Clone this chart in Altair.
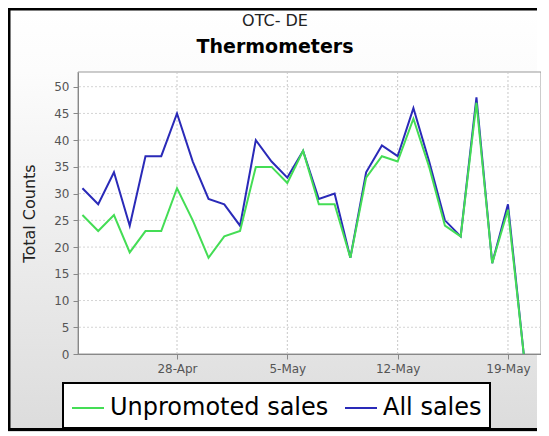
import altair as alt
import pandas as pd

# ---- data ----
dates = [f"2013-04-{d:02d}" for d in range(22, 31)] + [f"2013-05-{d:02d}" for d in range(1, 21)]
all_sales = [31, 28, 34, 24, 37, 37, 45, 36, 29, 28, 24, 40, 36, 33, 38, 29, 30, 18, 34, 39,
             37, 46, 36, 25, 22, 48, 17, 28, 0]
unpromoted_sales = [26, 23, 26, 19, 23, 23, 31, 25, 18, 22, 23, 35, 35, 32, 38, 28, 28, 18, 33, 37,
                    36, 44, 35, 24, 22, 47, 17, 27, 0]
series_names = ["Unpromoted sales", "All sales"]
series_colors = ["#44dd55", "#2a2ab8"]
x_tick_dates = ["2013-04-28", "2013-05-05", "2013-05-12", "2013-05-19"]
y_ticks = list(range(0, 51, 5))
title_line1 = "OTC- DE"
title_line2 = "Thermometers"
y_title = "Total Counts"

df = pd.DataFrame({
    "date": dates * 2,
    "count": all_sales + unpromoted_sales,
    "series": ["All sales"] * len(dates) + ["Unpromoted sales"] * len(dates),
})
xgrid_df = pd.DataFrame({"date": x_tick_dates})
ygrid_df = pd.DataFrame({"count": y_ticks[1:]})
one = pd.DataFrame({"k": [0]})

W, H = 463, 282

x_scale = alt.Scale(type="utc", domain=[
    alt.DateTime(year=2013, month=4, date=21, hours=17, minutes=14, utc=True),
    alt.DateTime(year=2013, month=5, date=21, hours=2, minutes=18, utc=True)])
y_scale = alt.Scale(domain=[0, 52.75], nice=False, zero=True)

x_axis = alt.Axis(values=[alt.DateTime(year=2013, month=int(d[5:7]), date=int(d[8:]), utc=True)
                          for d in x_tick_dates],
                  labelExpr="utcFormat(datum.value, '%-d-%b')", title=None, grid=False, zindex=1,
                  labelFont="DejaVu Sans", labelFontSize=12, labelColor="#555",
                  tickColor="#888", tickSize=5, labelPadding=4, domainColor="#888")
y_axis = alt.Axis(values=y_ticks, title=y_title, grid=False, zindex=1,
                  labelFont="DejaVu Sans", labelFontSize=12, labelColor="#555",
                  tickColor="#888", tickSize=5, labelPadding=4, domainColor="#888",
                  titleFont="DejaVu Sans", titleFontSize=16, titleFontWeight="normal",
                  titleColor="#222", titlePadding=16)

X = alt.X("date:T", scale=x_scale, axis=x_axis)
Y = alt.Y("count:Q", scale=y_scale, axis=y_axis)

gradient = {"gradient": "linear", "x1": 0, "y1": 0, "x2": 0, "y2": 1,
            "stops": [{"offset": 0, "color": "#ffffff"}, {"offset": 0.15, "color": "#fcfcfc"},
                      {"offset": 1, "color": "#dcdcdc"}]}

bg = alt.Chart(one).mark_rect(fill=gradient, strokeWidth=0).encode(
    x=alt.value(-70), x2=alt.value(W - 4), y=alt.value(-64), y2=alt.value(360))

frame_left = alt.Chart(one).mark_rule(color="black", strokeWidth=3).encode(
    x=alt.value(-69), y=alt.value(-64), y2=alt.value(359))
frame_top = alt.Chart(one).mark_rule(color="black", strokeWidth=3).encode(
    x=alt.value(-70), x2=alt.value(W - 4), y=alt.value(-63))
frame_bottom = alt.Chart(one).mark_rule(color="black", strokeWidth=3).encode(
    x=alt.value(-70), x2=alt.value(W - 4), y=alt.value(357.5))

plot_bg = alt.Chart(one).mark_rect(fill="white", stroke="#999", strokeWidth=1).encode(
    x=alt.value(0), x2=alt.value(W), y=alt.value(0), y2=alt.value(H))

ygrid = alt.Chart(ygrid_df).mark_rule(color="#d4d4d4", strokeWidth=1, strokeDash=[2, 2]).encode(y=Y)
xgrid = alt.Chart(xgrid_df).mark_rule(color="#c8c8c8", strokeWidth=1, strokeDash=[2, 2]).encode(x=X)

t1 = alt.Chart(one).mark_text(font="DejaVu Sans", fontSize=16, color="#222",
                              align="center", baseline="middle").encode(
    x=alt.value(197), y=alt.value(-51), text=alt.value(title_line1))
t2 = alt.Chart(one).mark_text(font="DejaVu Sans", fontSize=19, fontWeight="bold", color="black",
                              align="center", baseline="middle").encode(
    x=alt.value(197), y=alt.value(-25), text=alt.value(title_line2))

lines = alt.Chart(df).mark_line(strokeWidth=2).encode(
    x=X, y=Y,
    color=alt.Color("series:N",
                    scale=alt.Scale(domain=series_names, range=series_colors),
                    legend=alt.Legend(orient="none", legendX=-15, legendY=311, direction="horizontal",
                                      title=None, symbolType="stroke", symbolSize=1024,
                                      symbolStrokeWidth=2, labelFontSize=24, labelFont="DejaVu Sans",
                                      labelColor="black", labelOffset=5, columnPadding=12,
                                      padding=8, strokeColor="black", fillColor="white",
                                      labelLimit=400, zindex=1)),
)

chart = alt.layer(bg, plot_bg, ygrid, xgrid, lines, frame_left, frame_top, frame_bottom, t1, t2).properties(
    width=W, height=H,
    autosize=alt.AutoSizeParams(type="none"),
    padding={"left": 70, "top": 64, "right": 0, "bottom": 78},
).configure_view(stroke=None).configure_legend(strokeWidth=2)

chart.save("out.html", embed_options={"renderer": "svg", "actions": False})
